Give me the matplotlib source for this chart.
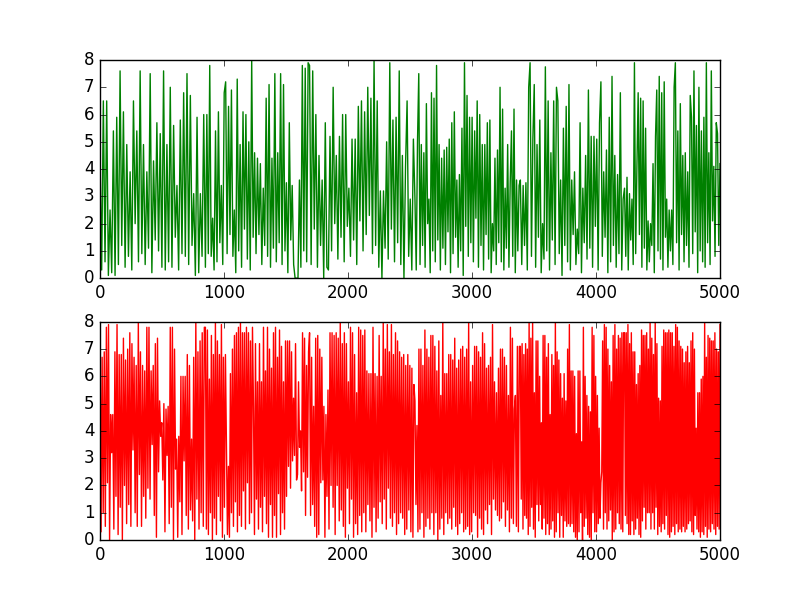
import numpy as np
import matplotlib
matplotlib.use("Agg")
import matplotlib.pyplot as plt

# values, block by block (left to right)
block_edges = [0, 850, 1690, 2540, 3390, 4230, 5000]

green_blocks = [
    [4.5, 0.3, 6.5, 0.6, 6.5, 0.1, 2.5, 0.2, 5.4, 0.1, 5.9, 0.5, 7.6, 1.2, 6.1, 0.4, 4.9, 0.8, 3.9, 0.3,
     6.5, 2.0, 5.4, 0.6, 7.6, 0.9, 4.9, 0.5, 3.9, 1.1, 7.5, 0.2, 4.3, 1.4, 5.7, 1.0, 5.3, 0.4, 7.6, 0.3,
     4.9, 0.6, 7.0, 0.4, 5.6, 1.5, 3.4, 0.3, 5.8, 0.9, 6.8, 0.8, 7.5, 0.5, 6.7, 1.2, 3.1, 0.1, 5.9, 0.2,
     3.1, 0.8, 6.0],
    [0.4, 6.0, 0.9, 7.8, 0.8, 2.2, 0.3, 5.4, 0.6, 6.1, 1.3, 3.4, 0.5, 6.8, 7.2, 0.9, 6.3, 1.6, 6.9, 0.8,
     2.5, 0.2, 7.3, 1.0, 4.9, 0.4, 6.1, 1.8, 6.0, 0.7, 5.0, 0.3, 8.0, 1.5, 4.6, 0.9, 4.4, 1.6, 4.2, 0.5,
     3.3, 1.2, 6.6, 0.8, 7.1, 0.4, 4.4, 1.1, 7.5, 0.6, 4.6, 1.3, 7.5, 0.5, 7.1, 1.0, 3.5, 0.2, 5.7, 1.4,
     3.4, 0.5, 0.0, 0.0, 0.0, 3.6, 0.4, 7.8, 1.0, 7.7, 0.6, 7.9],
    [7.8, 0.5, 7.6, 1.8, 6.0, 0.4, 4.5, 1.2, 3.6, 0.0, 5.7, 0.4, 0.3, 5.2, 1.0, 7.0, 2.0, 4.5, 0.7, 5.2,
     1.5, 6.0, 0.6, 6.0, 1.9, 3.3, 0.8, 5.1, 1.4, 5.1, 0.5, 6.3, 2.1, 6.5, 1.0, 6.1, 1.6, 7.0, 2.3, 6.6,
     0.9, 8.0, 1.2, 6.5, 0.4, 3.2, 0.0, 3.2, 1.1, 5.0, 0.7, 7.9, 1.8, 5.8, 0.6, 5.9, 1.3, 7.6, 0.5, 4.5,
     0.0, 4.1, 6.5, 0.8, 2.9, 0.3, 5.1],
    [2.9, 0.3, 5.0, 7.5, 0.5, 4.9, 1.2, 4.6, 0.4, 6.4, 2.0, 2.9, 0.2, 6.8, 1.0, 6.6, 0.6, 7.8, 1.4, 4.9,
     0.3, 4.4, 1.1, 4.7, 0.5, 4.8, 1.7, 5.1, 0.2, 5.7, 0.9, 6.1, 1.5, 3.6, 0.4, 3.8, 1.0, 5.5, 0.1, 7.9,
     1.9, 6.7, 0.8, 5.9, 1.3, 5.9, 0.6, 5.4, 2.2, 6.5, 0.4, 6.0, 1.2, 4.9, 0.3, 4.9, 1.6, 5.7, 0.7, 5.8,
     0.2, 2.0, 1.0, 4.4, 0.5, 4.7, 1.3, 7.0, 0.6, 6.2, 0.3, 3.3, 1.1, 4.9, 0.4, 3.5, 5.4, 0.8, 6.2, 0.2,
     3.6, 1.0, 3.4],
    [3.6, 0.5, 3.4, 1.2, 3.5, 0.3, 7.0, 7.9, 0.8, 5.1, 7.1, 0.4, 4.9, 1.5, 5.8, 0.2, 2.0, 0.7, 7.75, 1.0,
     6.5, 0.3, 4.6, 1.4, 6.5, 0.5, 7.0, 6.5, 0.9, 3.6, 0.1, 5.5, 1.2, 6.3, 0.6, 7.1, 0.3, 3.6, 1.6, 3.9,
     0.5, 1.8, 0.9, 5.7, 0.2, 3.3, 1.3, 4.5, 0.7, 6.9, 1.1, 5.2, 0.4, 5.2, 1.9, 5.1, 0.3, 5.7, 7.2, 0.8,
     3.9, 1.5, 4.7, 0.2, 5.9, 0.6, 7.4, 1.2, 4.5, 0.4, 3.8, 0.9, 6.8, 0.3, 2.9],
    [3.3, 0.8, 3.7, 0.3, 3.1, 1.4, 2.9, 0.5, 7.9, 0.9, 4.1, 6.8, 1.6, 6.6, 0.4, 6.5, 1.1, 5.5, 0.3, 2.1,
     0.6, 2.0, 1.2, 4.2, 0.2, 5.2, 6.9, 1.0, 7.4, 0.7, 6.8, 0.3, 7.2, 1.5, 2.9, 0.4, 2.5, 1.0, 2.5, 0.5,
     7.0, 7.9, 1.3, 5.4, 0.3, 6.4, 1.6, 4.5, 0.6, 4.6, 1.2, 3.9, 0.4, 6.7, 5.9, 0.9, 7.6, 1.7, 5.6, 0.2,
     7.0, 1.0, 5.4, 0.6, 5.9, 0.4, 7.9, 1.3, 4.6, 0.5, 7.6, 2.1, 4.1, 0.8, 5.7, 5.3, 1.2, 4.2],
]

red_blocks = [
    [8.0, 0.3, 6.7, 1.0, 6.9, 0.5, 7.8, 2.1, 7.9, 0.0, 4.6, 3.2, 4.6, 0.4, 6.9, 1.6, 7.9, 0.2, 6.8, 1.2,
     6.8, 0.0, 7.4, 2.0, 6.6, 0.6, 7.0, 1.3, 7.6, 0.5, 7.2, 3.3, 6.7, 1.0, 6.4, 0.5, 8.0, 2.4, 6.9, 0.5,
     6.4, 1.6, 6.2, 0.8, 7.8, 1.9, 7.8, 1.5, 6.2, 3.5, 6.4, 0.9, 7.2, 0.1, 7.4, 2.5, 5.1, 3.8, 4.3, 2.2,
     5.0, 0.3, 4.8, 3.1, 4.9, 0.6, 7.8, 1.2, 7.8, 0.0, 7.0, 2.6, 3.7, 0.1, 3.8, 1.4, 6.0, 0.2, 6.0, 2.9,
     6.0, 0.9, 6.8, 0.4, 6.4, 1.1, 3.7, 0.7, 6.7, 0.0, 8.0, 1.5, 6.9, 0.4, 7.3, 1.0, 7.6, 0.5, 7.8],
    [7.8, 0.4, 7.7, 0.2, 5.9, 1.0, 7.5, 0.0, 6.8, 0.8, 8.0, 0.2, 7.3, 1.6, 6.8, 0.7, 7.9, 0.1, 6.7, 1.2,
     6.8, 3.4, 0.2, 2.7, 0.1, 6.1, 1.0, 7.0, 0.5, 7.5, 1.4, 7.6, 0.3, 7.8, 0.9, 8.0, 0.5, 7.6, 1.8, 7.6,
     0.4, 7.8, 2.1, 7.6, 0.6, 7.3, 1.0, 7.8, 4.9, 0.2, 7.2, 1.5, 5.8, 0.4, 7.2, 1.2, 5.8, 0.3, 7.8, 1.6,
     6.2, 0.6, 7.8, 0.1, 7.0, 1.3, 6.3, 0.1, 7.6, 0.9, 7.8, 0.1, 6.7, 1.7, 7.7, 0.2, 7.1, 1.0, 5.8, 0.4,
     7.3, 1.6, 7.3, 2.7, 7.3, 1.9, 6.9, 2.9, 5.2, 3.1, 7.2, 2.2, 2.4, 5.8, 3.4, 4.0, 1.8, 7.6, 2.5, 7.4,
     0.9, 6.4, 2.3, 6.9],
    [7.6, 0.9, 6.7, 1.3, 4.9, 0.5, 7.4, 0.1, 7.5, 0.2, 7.0, 2.1, 6.7, 2.2, 4.9, 0.1, 4.6, 1.6, 5.5, 0.4,
     7.6, 2.0, 7.6, 1.2, 7.5, 0.2, 7.6, 2.0, 7.4, 0.7, 8.0, 1.1, 7.2, 0.5, 7.6, 0.1, 7.2, 1.9, 5.8, 0.6,
     7.8, 1.5, 7.6, 0.1, 6.8, 0.6, 5.4, 0.2, 7.8, 0.9, 7.7, 0.3, 7.5, 1.0, 7.7, 0.3, 6.2, 1.3, 6.1, 0.7,
     6.1, 0.1, 7.8, 1.2, 6.1, 0.3, 6.0, 0.8, 7.5, 1.4, 6.0, 0.6, 8.0, 1.5, 7.0, 0.4, 7.9, 1.9, 6.9, 0.8,
     7.9, 0.5, 6.8, 1.0, 7.6, 0.2, 7.3, 0.6, 6.9, 1.0, 6.7, 0.8, 6.8, 0.2, 6.4, 0.4, 6.8, 1.1, 6.4, 0.3,
     6.3, 0.1, 5.7],
    [5.1, 1.3, 4.2, 0.3, 7.0, 0.4, 7.0, 1.0, 6.4, 0.1, 7.7, 0.5, 7.0, 0.8, 6.7, 0.4, 7.5, 1.0, 7.5, 0.2,
     7.1, 1.0, 6.2, 0.0, 7.3, 0.4, 5.3, 0.8, 8.0, 0.2, 6.1, 1.0, 6.1, 0.6, 6.8, 0.8, 6.8, 0.4, 6.6, 1.2,
     7.4, 0.5, 6.3, 0.2, 6.6, 0.6, 7.0, 1.0, 7.1, 0.3, 6.7, 0.4, 7.0, 0.5, 8.0, 0.2, 5.8, 0.3, 6.4, 1.0,
     7.1, 0.9, 7.1, 0.1, 6.9, 0.8, 6.7, 0.4, 7.6, 0.2, 7.2, 1.1, 6.3, 0.6, 6.4, 1.3, 6.7, 0.2, 7.9, 1.5,
     5.8, 1.1, 5.4, 0.9, 6.3, 0.7, 7.0, 0.8, 7.0, 1.4, 6.7, 0.5, 6.4, 1.1, 5.3, 0.3, 7.8, 0.8, 7.4, 0.6,
     4.8, 5.3, 0.5, 7.1, 0.3, 7.1],
    [7.1, 1.5, 7.2, 0.4, 6.8, 0.9, 7.2, 0.8, 7.0, 0.2, 8.0, 0.5, 7.4, 1.2, 8.0, 0.4, 5.4, 0.1, 7.3, 1.3,
     7.3, 0.7, 6.0, 1.3, 4.3, 0.4, 7.5, 0.8, 7.5, 0.2, 6.7, 0.6, 7.2, 0.2, 4.6, 0.4, 6.8, 0.7, 6.4, 0.1,
     8.0, 0.3, 6.9, 1.0, 6.6, 0.1, 6.1, 0.9, 5.2, 0.1, 6.1, 0.7, 5.1, 0.5, 7.0, 0.6, 7.9, 0.5, 6.2, 0.6,
     6.2, 0.3, 6.0, 0.1, 3.9, 0.0, 6.2, 0.3, 6.2, 1.0, 3.6, 0.0, 7.8, 0.5, 6.0, 0.8, 5.3, 0.2, 4.9, 0.1,
     4.7, 0.0, 7.8, 1.0, 7.5, 0.3, 6.0, 0.3, 5.3, 0.6, 4.1, 0.8, 2.1, 2.5, 7.3, 0.4, 7.9, 1.0, 7.8, 0.4,
     7.0, 0.7, 6.4, 1.1, 5.8, 0.0, 7.5, 0.3, 7.9, 0.4, 7.0, 1.0, 7.5, 0.6, 7.4, 0.4, 7.6, 0.3, 7.6],
    [7.6, 0.9, 7.6, 0.6, 7.9, 0.2, 7.2, 0.2, 7.6, 0.7, 6.9, 0.2, 6.9, 0.4, 5.7, 0.8, 6.1, 0.2, 6.4, 0.1,
     7.7, 0.7, 7.5, 1.2, 7.5, 0.4, 7.6, 1.0, 7.0, 1.0, 8.0, 0.4, 7.4, 1.0, 6.8, 0.4, 8.0, 1.2, 7.2, 0.2,
     5.2, 0.5, 5.1, 0.3, 7.1, 0.6, 7.7, 0.4, 7.6, 0.9, 7.6, 0.2, 7.7, 0.1, 7.6, 0.3, 7.6, 0.5, 7.1, 0.2,
     7.9, 0.6, 7.8, 0.3, 7.3, 0.4, 7.1, 0.3, 7.0, 0.5, 6.5, 0.3, 6.9, 0.4, 7.1, 0.6, 6.5, 0.7, 7.3, 0.3,
     7.6, 0.2, 7.0, 0.9, 4.1, 0.4, 5.4, 0.3, 5.4, 0.1, 5.9, 0.3, 6.0, 0.2, 8.0, 0.5, 6.7, 0.1, 7.5, 0.4,
     7.4, 0.3, 7.3, 0.6, 7.3, 0.4, 7.6, 0.2, 7.0, 0.5, 6.9, 0.4, 7.9],
]


def build(blocks):
    xs, ys = [], []
    for i, vals in enumerate(blocks):
        last = i == len(blocks) - 1
        xs.append(np.linspace(block_edges[i], block_edges[i + 1], len(vals), endpoint=last))
        ys.append(vals)
    return np.concatenate(xs), np.concatenate(ys)


x_g, y_g = build(green_blocks)
x_r, y_r = build(red_blocks)

plt.style.use("classic")
fig, (ax1, ax2) = plt.subplots(2, 1, figsize=(8, 6), dpi=100)

ax1.plot(x_g, y_g, color="g")
ax2.plot(x_r, y_r, color="r")

for ax in (ax1, ax2):
    ax.set_xlim(0, 5000)
    ax.set_ylim(0, 8)

fig.savefig("out.png", dpi=100)
